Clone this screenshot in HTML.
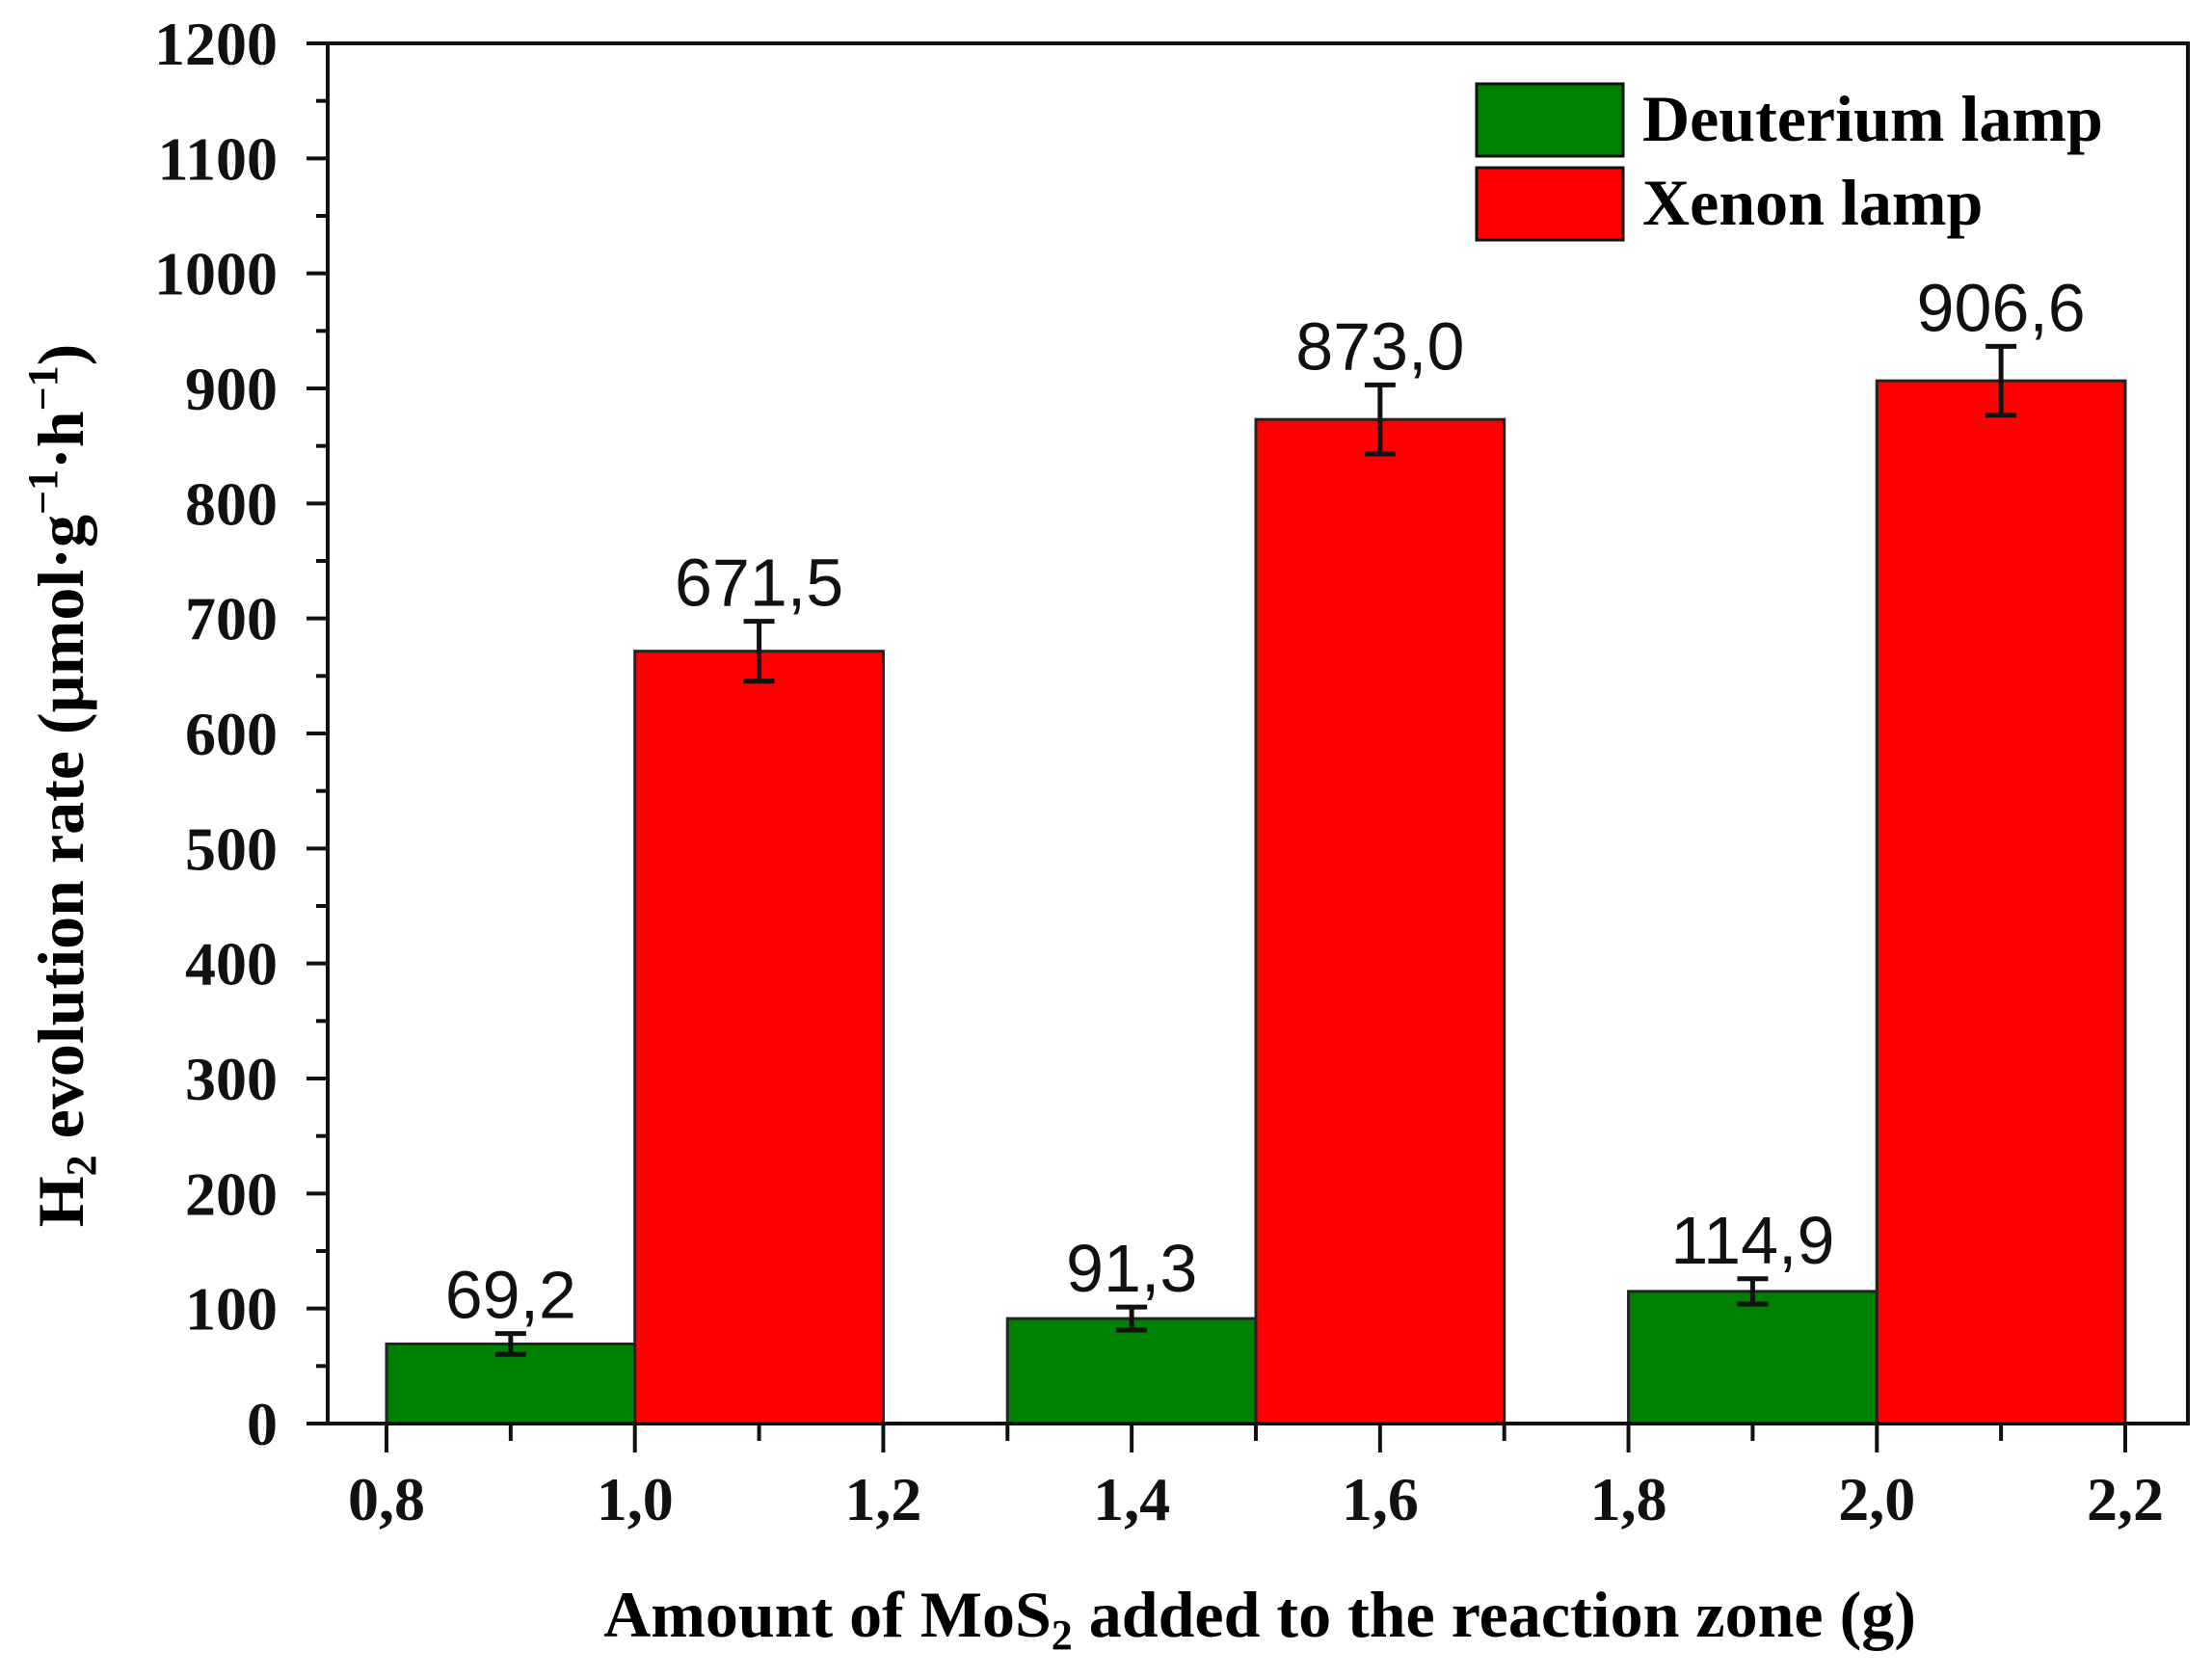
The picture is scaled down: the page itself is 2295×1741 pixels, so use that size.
<!DOCTYPE html>
<html><head><meta charset="utf-8"><style>
html,body{margin:0;padding:0;background:#fff;}
svg{display:block;}
</style></head><body>
<svg id="chart" width="2295" height="1741" viewBox="0 0 2295 1741" xmlns="http://www.w3.org/2000/svg">
<rect x="0" y="0" width="2295" height="1741" fill="#fff"/>
<g id="bars"></g>
<g id="axes"></g>
<g>
  <rect x="1532" y="87" width="152" height="75" fill="#008000" stroke="#111" stroke-width="3"/>
  <text x="1704" y="146" font-family="Liberation Serif, serif" font-weight="bold" font-size="68">Deuterium lamp</text>
  <rect x="1532" y="174" width="152" height="75" fill="#ff0000" stroke="#111" stroke-width="3"/>
  <text x="1704" y="233" font-family="Liberation Serif, serif" font-weight="bold" font-size="68">Xenon lamp</text>
</g>
<text transform="translate(86,815) rotate(-90)" text-anchor="middle" font-family="Liberation Serif, serif" font-weight="bold" font-size="68">H<tspan font-size="44" dy="13">2</tspan><tspan dy="-13"> evolution rate (µmol·g</tspan><tspan font-size="44" dy="-27">−1</tspan><tspan dy="27">·h</tspan><tspan font-size="44" dy="-27">−1</tspan><tspan dy="27">)</tspan></text>
<text x="1307" y="1698" text-anchor="middle" font-family="Liberation Serif, serif" font-weight="bold" font-size="68">Amount of MoS<tspan font-size="44" dy="13">2</tspan><tspan dy="-13"> added to the reaction zone (g)</tspan></text>
</svg>
<script>
const groupCenters = [0.9, 1.4, 1.9];
const deuteriumValues = [69.2, 91.3, 114.9];
const xenonValues = [671.5, 873.0, 906.6];
const deuteriumErrors = [9, 10, 11];
const xenonErrors = [26, 30, 30];
const valueLabelsD = ["69,2", "91,3", "114,9"];
const valueLabelsX = ["671,5", "873,0", "906,6"];
const xTickLabels = ["0,8","1,0","1,2","1,4","1,6","1,8","2,0","2,2"];
const xTickValues = [0.8,1.0,1.2,1.4,1.6,1.8,2.0,2.2];
const yTickValues = [0,100,200,300,400,500,600,700,800,900,1000,1100,1200];

const NS = "http://www.w3.org/2000/svg";
const L = 340, R = 2270, T = 45, B = 1477;
function xs(v){ return 401 + (v - 0.8) * (2205 - 401) / 1.4; }
function ys(v){ return B - v * (B - T) / 1200; }
function mk(tag, attrs, parent){
  const e = document.createElementNS(NS, tag);
  for (const k in attrs) e.setAttribute(k, attrs[k]);
  parent.appendChild(e);
  return e;
}
const bars = document.getElementById('bars');
const axes = document.getElementById('axes');
const bw = 0.2;
function drawSeries(vals, errs, labels, offset, color, name){
  for (let i = 0; i < vals.length; i++){
    const x0 = xs(groupCenters[i] + offset - bw/2), x1 = xs(groupCenters[i] + offset + bw/2);
    const r = mk('rect', {x:x0, y:ys(vals[i]), width:x1-x0, height:B-ys(vals[i]), fill:color, stroke:'#222', 'stroke-width':3}, bars);
    
    
    const cx = xs(groupCenters[i] + offset);
    const g = mk('g', {stroke:'#111', 'stroke-width':5}, bars);
    
    
    mk('line', {x1:cx, x2:cx, y1:ys(vals[i]+errs[i]), y2:ys(vals[i]-errs[i])}, g);
    mk('line', {x1:cx-16, x2:cx+16, y1:ys(vals[i]+errs[i]), y2:ys(vals[i]+errs[i])}, g);
    mk('line', {x1:cx-16, x2:cx+16, y1:ys(vals[i]-errs[i]), y2:ys(vals[i]-errs[i])}, g);
    const t = mk('text', {x:cx, y:ys(vals[i]+errs[i]) - 16, 'text-anchor':'middle', 'font-family':'Liberation Sans, sans-serif', 'font-size':70, fill:'#111'}, bars);
    t.textContent = labels[i];
    
    
  }
}
drawSeries(deuteriumValues, deuteriumErrors, valueLabelsD, 0, '#008000', 'deuterium');
drawSeries(xenonValues, xenonErrors, valueLabelsX, 0.2, '#ff0000', 'xenon');

const fr = mk('rect', {x:L, y:T, width:R-L, height:B-T, fill:'none', stroke:'#111', 'stroke-width':4}, axes);


for (let v = 0; v <= 1200; v += 50){
  const major = v % 100 === 0;
  const tk = mk('line', {x1:L - (major ? 22 : 12), x2:L, y1:ys(v), y2:ys(v), stroke:'#111', 'stroke-width':4}, axes);
  
  
}
yTickValues.forEach(v => {
  const t = mk('text', {x:288, y:ys(v)+22, 'text-anchor':'end', 'font-family':'Liberation Serif, serif', 'font-weight':'bold', 'font-size':64, fill:'#111'}, axes);
  t.textContent = String(v);
  
  
});
for (let k = 0; k <= 14; k++){
  const v = 0.8 + k * 0.1;
  const major = k % 2 === 0;
  const tk = mk('line', {x1:xs(v), x2:xs(v), y1:B, y2:B + (major ? 30 : 18), stroke:'#111', 'stroke-width':4}, axes);
  
  
}
xTickValues.forEach((v, i) => {
  const t = mk('text', {x:xs(v), y:1577, 'text-anchor':'middle', 'font-family':'Liberation Serif, serif', 'font-weight':'bold', 'font-size':64, fill:'#111'}, axes);
  t.textContent = xTickLabels[i];
  
  
});
</script>
</body></html>
